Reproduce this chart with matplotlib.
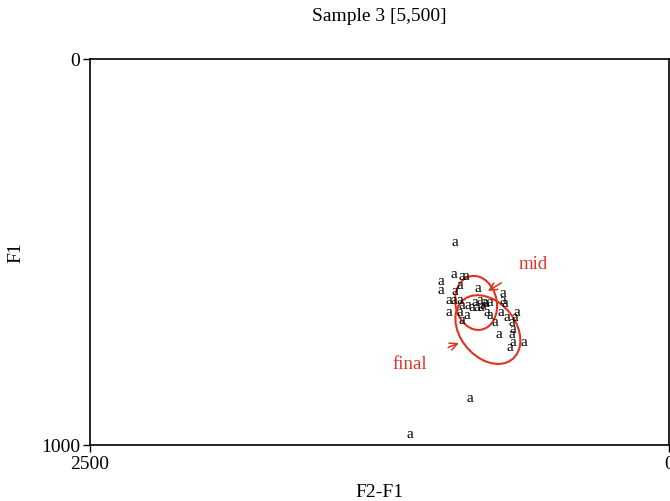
import matplotlib.pyplot as plt
from matplotlib.patches import Ellipse

plt.rcParams['font.family'] = ['Liberation Serif', 'DejaVu Serif']

# token measurements (F2-F1, F1)
f2f1 = [924, 928, 894, 877, 984, 984, 902, 825, 924, 950, 928, 902, 816, 795,
        773, 717, 717, 708, 894, 868, 851, 829, 950, 902, 872, 894, 786, 773,
        725, 700, 656, 665, 751, 678, 734, 674, 678, 687, 674, 626, 859, 1118,
        803, 790, 812, 840]
f1 = [474, 557, 562, 562, 575, 596, 583, 593, 601, 622, 622, 622, 622, 627,
      627, 604, 622, 630, 635, 635, 642, 640, 655, 653, 661, 674, 655, 661,
      655, 666, 655, 668, 679, 681, 712, 699, 712, 744, 733, 733, 878, 971,
      635, 632, 640, 628]
vowel = 'a'

# ellipses: center x, center y, width, height, angle
mid_ell = (833, 632, 183, 138, -11.5)
final_ell = (782, 701, 289, 164, -17)

red = '#e2321f'

fig = plt.figure(figsize=(6.7, 5.02), dpi=100)
ax = fig.add_axes([0.1343, 0.1116, 0.8642, 0.7689])

for x, y in zip(f2f1, f1):
    ax.text(x, y, vowel, ha='center', va='center', fontsize=11, color='black')

for cx, cy, w, h, ang in [mid_ell, final_ell]:
    ax.add_patch(Ellipse((cx, cy), w, h, angle=ang, fill=False,
                         edgecolor=red, linewidth=1.5))

ax.annotate('mid', xy=(782, 601), xytext=(587, 531), color=red, fontsize=13.5,
            ha='center', va='center',
            arrowprops=dict(arrowstyle='->', color=red, lw=1.1,
                            shrinkA=12, shrinkB=0))
ax.annotate('final', xy=(907, 736), xytext=(1118, 788), color=red, fontsize=13.5,
            ha='center', va='center',
            arrowprops=dict(arrowstyle='->', color=red, lw=1.1,
                            shrinkA=14, shrinkB=0))

ax.set_xlim(2500, 0)
ax.set_ylim(1000, 0)
ax.set_xticks([2500, 0])
ax.set_yticks([0, 1000])
ax.tick_params(labelsize=14, length=5, width=1, direction='out', pad=2)
for s in ax.spines.values():
    s.set_linewidth(1.2)

ax.set_title('Sample 3 [5,500]', fontsize=14, pad=28)
ax.set_xlabel('F2-F1', fontsize=14, labelpad=8)
ax.set_ylabel('F1', fontsize=14, labelpad=12)

fig.savefig('out.png', dpi=100)
